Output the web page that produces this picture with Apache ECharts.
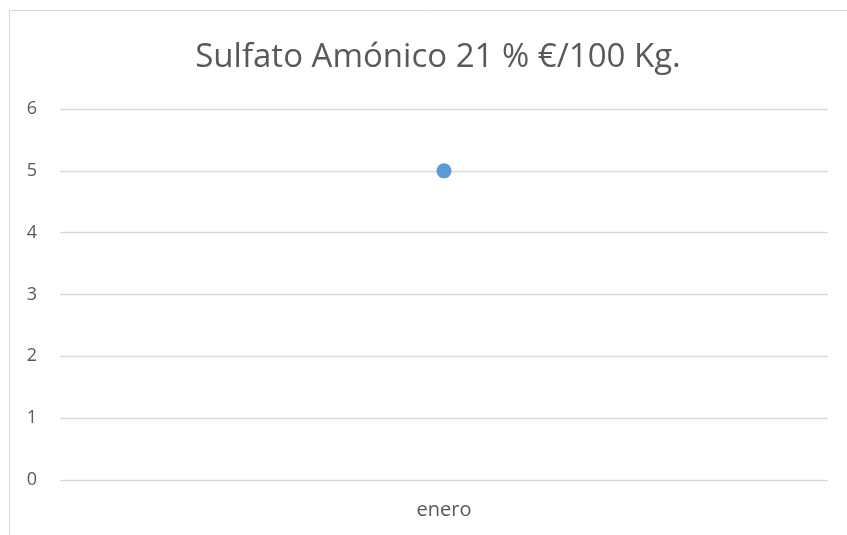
<!DOCTYPE html>
<html>
<head>
<meta charset="utf-8">
<script src="https://cdn.jsdelivr.net/npm/echarts@6/dist/echarts.min.js"></script>
<style>
  html, body { margin: 0; padding: 0; background: #fff; }
  #chart { width: 847px; height: 535px; }
</style>
</head>
<body>
<div id="chart"></div>
<script>
const titleText = 'Sulfato Amónico 21 % €/100 Kg.';
const categories = ['enero'];
const values = [5];
const yMin = 0;
const yMax = 6;
const yStep = 1;

const textColor = '#595959';
const chart = echarts.init(document.getElementById('chart'));

chart.setOption({
  animation: false,
  textStyle: { fontFamily: 'Open Sans, Liberation Sans, sans-serif' },
  title: {
    text: titleText,
    left: 433,
    textAlign: 'center',
    top: 36,
    textStyle: { fontSize: 33, fontWeight: 'normal', color: textColor }
  },
  // outer chart frame (only left/top edges fall inside the window)
  graphic: [{
    type: 'rect',
    shape: { x: 9.5, y: 10.5, width: 900, height: 600 },
    style: { fill: 'none', stroke: '#d9d9d9', lineWidth: 1 },
    silent: true
  }],
  grid: { left: 60, right: 19, top: 109, bottom: 55 },
  xAxis: {
    type: 'category',
    data: categories,
    boundaryGap: true,
    axisLine: { show: false },
    axisTick: { show: false },
    axisLabel: { color: textColor, fontSize: 20, margin: 20 }
  },
  yAxis: {
    type: 'value',
    min: yMin,
    max: yMax,
    interval: yStep,
    axisLine: { show: false },
    axisTick: { show: false },
    axisLabel: { color: textColor, fontSize: 18, margin: 23 },
    splitLine: { lineStyle: { color: '#d9d9d9', width: 1.3 } }
  },
  series: [{
    type: 'line',
    data: values,
    symbol: 'circle',
    symbolSize: 15,
    itemStyle: { color: '#5b9bd5' },
    lineStyle: { color: '#5b9bd5', width: 2.5 }
  }]
});
</script>
</body>
</html>
